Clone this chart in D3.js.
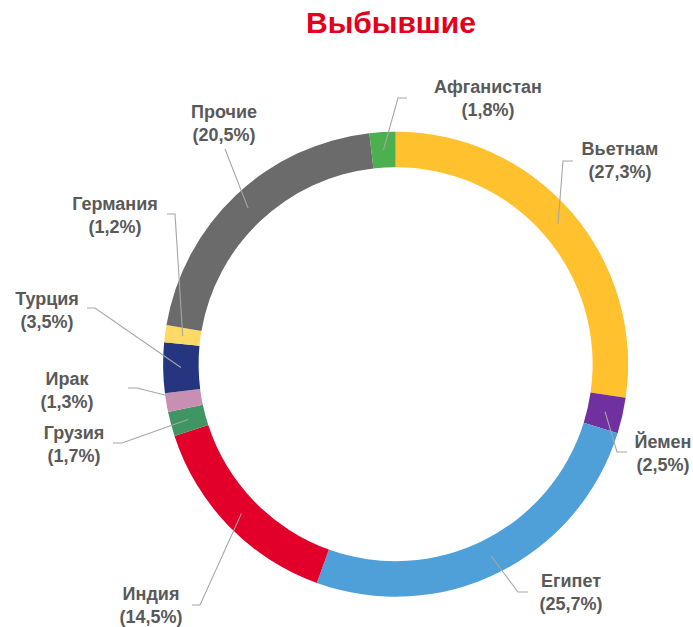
<!DOCTYPE html>
<html>
<head>
<meta charset="utf-8">
<script src="https://cdn.jsdelivr.net/npm/d3@7"></script>
<style>
  body { margin: 0; background: #fff; }
  text { font-family: "Liberation Sans", Arial, sans-serif; }
</style>
</head>
<body>
<svg width="693" height="627"></svg>
<script>
// data
var countries = ["Вьетнам", "Йемен", "Египет", "Индия", "Грузия", "Ирак", "Турция", "Германия", "Прочие", "Афганистан"];
var shares = [27.3, 2.5, 25.7, 14.5, 1.7, 1.3, 3.5, 1.2, 20.5, 1.8];
var colors = ["#FFC12E", "#7030A0", "#4FA0D8", "#E2002A", "#3F9563", "#C88FB3", "#263580", "#FFD966", "#6B6B6B", "#4CAF50"];

// label layout: [label centre x, first baseline y, elbow x, elbow y, end x]
var labelPos = [
  [620, 155, 563, 161, 573],
  [663, 448, 617, 452, 627],
  [571, 587, 518, 592, 528],
  [151, 600, 200, 605, 192],
  [74, 439, 122, 443, 113],
  [67, 385, 137, 388, 128],
  [47, 305, 95, 308, 87],
  [115, 210, 175, 214, 167],
  [224, 118, 225, 149, 225],
  [488, 93, 398, 98, 407]
];

var svg = d3.select("svg"),
    width = +svg.attr("width"),
    height = +svg.attr("height");

var cx = 395.6, cy = 364.2,
    outerR = 232.5, innerR = 197;

var fmt = function(v) { return "(" + d3.format(".1f")(v).replace(".", ",") + "%)"; };

svg.append("text")
    .attr("x", 391)
    .attr("y", 33)
    .attr("text-anchor", "middle")
    .attr("font-size", "30px")
    .attr("font-weight", "bold")
    .attr("fill", "#E2001A")
    .text("Выбывшие");

var pie = d3.pie()
    .sort(null)
    .value(function(d) { return d; });

var arc = d3.arc()
    .innerRadius(innerR)
    .outerRadius(outerR);

var arcs = pie(shares);

var g = svg.append("g")
    .attr("transform", "translate(" + cx + "," + cy + ")");

g.selectAll("path")
    .data(arcs)
  .enter().append("path")
    .attr("d", arc)
    .attr("fill", function(d, i) { return colors[i]; });

// leader lines
svg.selectAll(".leader")
    .data(arcs)
  .enter().append("polyline")
    .attr("class", "leader")
    .attr("fill", "none")
    .attr("stroke", "#A6A6A6")
    .attr("stroke-width", 1.1)
    .attr("points", function(d, i) {
      var c = arc.centroid(d), p = labelPos[i];
      return [[cx + c[0], cy + c[1]], [p[2], p[3]], [p[4], p[3]]].join(" ");
    });

// labels
var lab = svg.selectAll(".lab")
    .data(arcs)
  .enter().append("text")
    .attr("class", "lab")
    .attr("text-anchor", "middle")
    .attr("font-size", "18px")
    .attr("font-weight", "bold")
    .attr("fill", "#595959");

lab.append("tspan")
    .attr("x", function(d, i) { return labelPos[i][0]; })
    .attr("y", function(d, i) { return labelPos[i][1]; })
    .text(function(d, i) { return countries[i]; });

lab.append("tspan")
    .attr("x", function(d, i) { return labelPos[i][0]; })
    .attr("y", function(d, i) { return labelPos[i][1] + 22.5; })
    .text(function(d, i) { return fmt(shares[i]); });
</script>
</body>
</html>
